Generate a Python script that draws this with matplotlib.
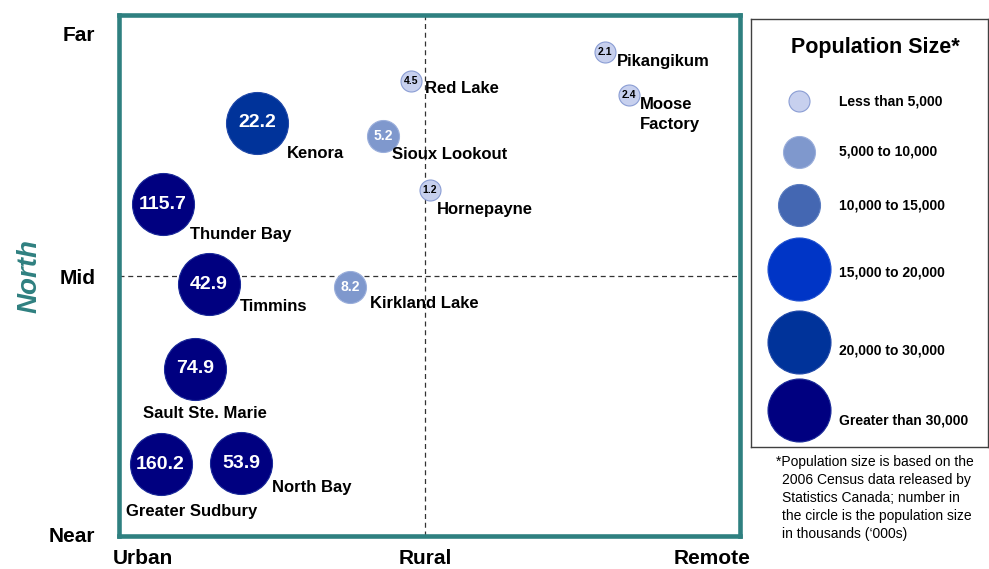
import numpy as np
import matplotlib.pyplot as plt

plt.rcParams['font.family'] = ['Liberation Sans', 'DejaVu Sans']

# communities: position on the Urban-Rural-Remote (x) / Near-Mid-Far (y) grid
cities = ['Greater Sudbury', 'North Bay', 'Sault Ste. Marie', 'Timmins', 'Kirkland Lake',
          'Thunder Bay', 'Kenora', 'Sioux Lookout', 'Red Lake', 'Hornepayne',
          'Pikangikum', 'Moose\nFactory']
pop = [160.2, 53.9, 74.9, 42.9, 8.2, 115.7, 22.2, 5.2, 4.5, 1.2, 2.1, 2.4]  # '000s
xpos = [6.7, 19.7, 12.2, 14.5, 37.2, 7.1, 22.2, 42.5, 47.0, 50.1, 78.3, 82.1]
ypos = [13.8, 14.0, 32.1, 48.3, 47.8, 63.7, 79.3, 76.8, 87.3, 66.4, 92.9, 84.6]

x_ticks = [3.9, 49.3, 95.5]
x_labels = ['Urban', 'Rural', 'Remote']
y_ticks = [0.2, 49.9, 96.5]
y_labels = ['Near', 'Mid', 'Far']

class_labels = ['Less than 5,000', '5,000 to 10,000', '10,000 to 15,000',
                '15,000 to 20,000', '20,000 to 30,000', 'Greater than 30,000']
class_edges = [0, 5, 10, 15, 20, 30, np.inf]

# styling per class
class_colors = ['#c7d0ee', '#7f98cd', '#4467b2', '#0035c6', '#00339a', '#000080']
class_edgec = ['#8a9dd4', '#9aaedb', '#5a7cc0', '#2050d0', '#2048a8', '#1a2a99']
class_radius = [10.5, 16, 21, 31.5, 31.5, 31.5]  # pixels

def size_of(r):
    return (2 * r * 72 / 100) ** 2

def cls(p):
    for i in range(len(class_edges) - 1):
        if class_edges[i] <= p < class_edges[i + 1]:
            return i
    return len(class_edges) - 2

# label offsets (pixels) from bubble centre
label_off = {'Greater Sudbury': (-35, -47), 'North Bay': (31, -24), 'Sault Ste. Marie': (-52, -45),
             'Timmins': (31, -22), 'Kirkland Lake': (20, -17), 'Thunder Bay': (27, -30),
             'Kenora': (30, -31), 'Sioux Lookout': (9, -19), 'Red Lake': (14, -7),
             'Hornepayne': (7, -19), 'Pikangikum': (12, -10), 'Moose\nFactory': (11, -19)}

W, H = 989, 569
fig = plt.figure(figsize=(W / 100, H / 100), dpi=100)

def box(l, t, r, b):
    return [l / W, (H - b) / H, (r - l) / W, (b - t) / H]

teal = '#2f8080'
ax = fig.add_axes(box(119, 15, 740, 536))
ax.set_xlim(0, 100)
ax.set_ylim(0, 100)
for s in ax.spines.values():
    s.set_color(teal)
    s.set_linewidth(3.3)

ax.axvline(x_ticks[1], color='#333333', lw=0.9, ls=(0, (4, 3)), zorder=1)
ax.axhline(y_ticks[1], color='#333333', lw=0.9, ls=(0, (4, 3)), zorder=1)

ax.set_xticks(x_ticks, x_labels, fontsize=15, fontweight='bold')
ax.set_yticks(y_ticks, y_labels, fontsize=15, fontweight='bold')
ax.tick_params(axis='x', length=0, pad=9)
ax.tick_params(axis='y', length=0, pad=17)

for name, p, x, y in zip(cities, pop, xpos, ypos):
    c = cls(p)
    ax.scatter(x, y, s=size_of(class_radius[c] if c < 3 else 31), color=class_colors[c],
               edgecolors=class_edgec[c], linewidths=0.8, zorder=3)
    if c >= 2:
        fs, col = 14, 'white'
    elif c == 1:
        fs, col = 10, 'white'
    else:
        fs, col = 7.5, 'black'
    ax.text(x, y, str(p), ha='center', va='center', fontsize=fs, fontweight='bold',
            color=col, zorder=4)
    dx, dy = label_off[name]
    ax.annotate(name, (x, y), xytext=(dx, dy), textcoords='offset pixels',
                ha='left', va='center', fontsize=12, fontweight='bold',
                linespacing=1.45, zorder=5)

fig.text(30 / W, 1 - 276 / H, 'North', rotation=90, ha='center', va='center',
         fontsize=20, fontweight='bold', fontstyle='italic', color=teal)

# legend panel
lg = fig.add_axes(box(751, 19, 988, 447))
lg.set_xlim(751, 988)
lg.set_ylim(447, 19)
lg.set_xticks([])
lg.set_yticks([])
for s in lg.spines.values():
    s.set_color('#404040')
    s.set_linewidth(1.0)
lg.text(875, 47, 'Population Size*', ha='center', va='center', fontsize=15.5, fontweight='bold')
leg_cy = [101, 152, 205, 269, 342, 410]
leg_ty = [101, 152, 205, 273, 351, 421]
for i, lab in enumerate(class_labels):
    lg.scatter(799, leg_cy[i], s=size_of(class_radius[i]), color=class_colors[i],
               edgecolors=class_edgec[i], linewidths=0.8)
    lg.text(839, leg_ty[i], lab, ha='left', va='center', fontsize=10, fontweight='bold')

fig.text(776 / W, 1 - 455 / H, '*Population size is based on the', ha='left', va='top', fontsize=10)
fig.text(782 / W, 1 - 473 / H,
         '2006 Census data released by\nStatistics Canada; number in\n'
         'the circle is the population size\nin thousands (\u2018000s)',
         ha='left', va='top', fontsize=10, linespacing=1.36)

fig.savefig('out.png', dpi=100)
